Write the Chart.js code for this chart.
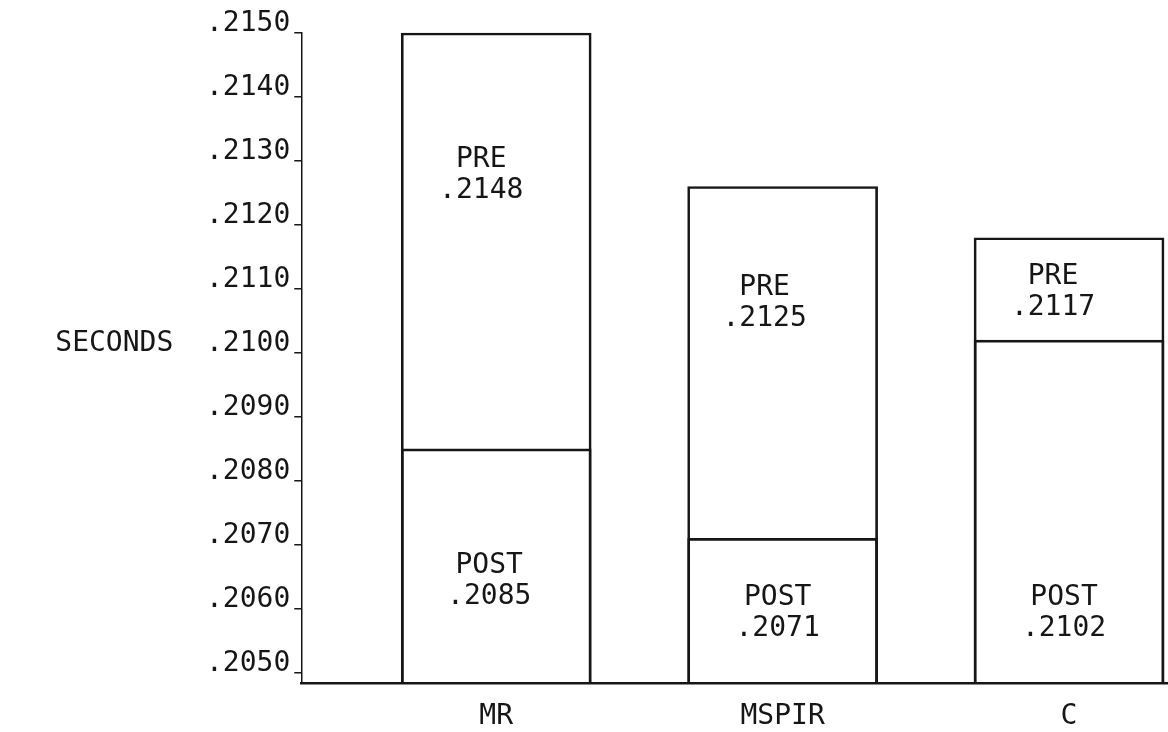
<!DOCTYPE html>
<html>
<head>
<meta charset="utf-8">
<title>Reaction time, pre and post</title>
<script src="https://cdn.jsdelivr.net/npm/chart.js@4.4.0/dist/chart.umd.min.js"></script>
<style>
  html, body { margin: 0; padding: 0; background: #fff; }
  #wrap { position: relative; width: 1168px; height: 732px; }
</style>
</head>
<body>
<div id="wrap"><canvas id="timeChart"></canvas></div>
<script>
// ===================================
// Pre / post times by group (seconds)
// ===================================

const groups = ['MR', 'MSPIR', 'C'];
const groupPos = [1, 2, 3];

// bar tops as they are drawn in the figure
const preValues = [0.2150, 0.2126, 0.2118];
const postValues = [0.2085, 0.2071, 0.2102];

// numbers typed inside the bars
const preLabels = ['.2148', '.2125', '.2117'];
const postLabels = ['.2085', '.2071', '.2102'];

const tickValues = [0.2050, 0.2060, 0.2070, 0.2080, 0.2090, 0.2100, 0.2110, 0.2120, 0.2130, 0.2140, 0.2150];
const tickLabels = ['.2050', '.2060', '.2070', '.2080', '.2090', '.2100', '.2110', '.2120', '.2130', '.2140', '.2150'];

const yTitle = 'SECONDS';

const Y_MIN = 0.20484;
const Y_MAX = 0.2150;
const FONT = '"DejaVu Sans Mono", "Liberation Mono", monospace';
const INK = '#161616';

// Text inside the bars and the axis title
const barText = {
    id: 'barText',
    afterDatasetsDraw(chart, args, opts) {
        const { ctx, chartArea } = chart;
        const x = chart.scales.x;
        const y = chart.scales.y;

        ctx.save();
        ctx.fillStyle = INK;
        ctx.font = '28px ' + FONT;
        ctx.textAlign = 'center';
        ctx.textBaseline = 'middle';

        groups.forEach((g, i) => {
            const cx = x.getPixelForValue(groupPos[i]);

            const preY = y.getPixelForValue(opts.preAt[i]);
            ctx.fillText('PRE', cx + opts.preDx[i], preY);
            ctx.fillText(preLabels[i], cx + opts.preDx[i], preY + opts.lineGap);

            const postY = y.getPixelForValue(opts.postAt[i]);
            ctx.fillText('POST', cx + opts.postDx[i], postY);
            ctx.fillText(postLabels[i], cx + opts.postDx[i], postY + opts.lineGap);
        });

        // y axis title, typed level with .2100
        ctx.textAlign = 'right';
        ctx.fillText(yTitle, chartArea.left - opts.titleGap, y.getPixelForValue(0.2100) - 9);
        ctx.restore();
    }
};

const barStyle = {
    backgroundColor: 'rgba(255,255,255,0)',
    borderColor: INK,
    borderWidth: 2,
    borderSkipped: 'start',
    barThickness: 190,
    base: Y_MIN,
    clip: false
};

new Chart(document.getElementById('timeChart'), {
    type: 'bar',
    data: {
        datasets: [
            Object.assign({
                label: 'PRE',
                data: groupPos.map((p, i) => ({ x: p, y: preValues[i] }))
            }, barStyle),
            Object.assign({
                label: 'POST',
                data: groupPos.map((p, i) => ({ x: p, y: postValues[i] }))
            }, barStyle)
        ]
    },
    options: {
        responsive: true,
        maintainAspectRatio: false,
        animation: false,
        events: [],
        grouped: false,
        layout: {
            padding: { left: 202, top: 33, right: 0, bottom: -19 }
        },
        plugins: {
            legend: { display: false },
            tooltip: { enabled: false },
            barText: {
                preAt: [0.21302, 0.21102, 0.21119],
                postAt: [0.20667, 0.20617, 0.20617],
                preDx: [-15, -18, -16],
                postDx: [-7, -5, -5],
                lineGap: 31,
                titleGap: 128
            }
        },
        scales: {
            x: {
                type: 'linear',
                min: 0.3194,
                max: 3.3455,
                offset: false,
                afterBuildTicks: scale => {
                    scale.ticks = groupPos.map(v => ({ value: v }));
                },
                grid: { display: false, drawTicks: false },
                border: { display: true, color: INK, width: 2.5 },
                ticks: {
                    color: INK,
                    padding: 20,
                    font: { family: FONT, size: 28, lineHeight: 1 },
                    callback: value => groups[groupPos.indexOf(value)]
                }
            },
            y: {
                type: 'linear',
                min: Y_MIN,
                max: Y_MAX,
                afterBuildTicks: scale => {
                    scale.ticks = tickValues.map(v => ({ value: v }));
                },
                grid: {
                    display: true,
                    drawOnChartArea: false,
                    drawTicks: true,
                    tickLength: 7,
                    color: INK,
                    lineWidth: 1.5
                },
                border: { display: true, color: INK, width: 1.5 },
                ticks: {
                    color: INK,
                    padding: 4,
                    labelOffset: -9,
                    font: { family: FONT, size: 28 },
                    callback: (value, index) => tickLabels[index]
                }
            }
        }
    },
    plugins: [barText]
});
</script>
</body>
</html>
